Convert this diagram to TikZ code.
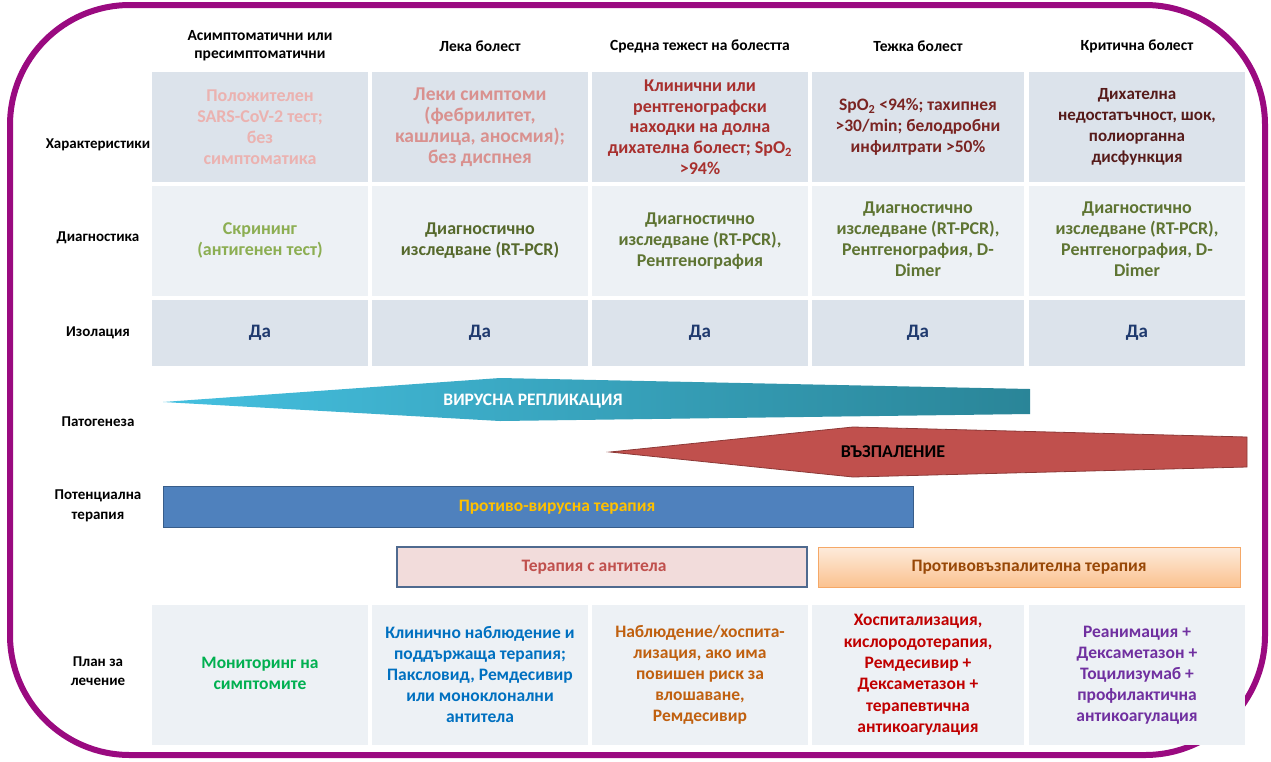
\documentclass[tikz,border=0pt]{standalone}
\usepackage{fontspec}
\setmainfont{Carlito}
\definecolor{frame}{HTML}{9A0A80}
\definecolor{rowA}{HTML}{DCE3EB}
\definecolor{rowB}{HTML}{EDF1F5}
\definecolor{chA}{HTML}{EBB2B0}
\definecolor{chB}{HTML}{D9918F}
\definecolor{chC}{HTML}{A8302E}
\definecolor{chD}{HTML}{7A2422}
\definecolor{chE}{HTML}{561B1A}
\definecolor{dgA}{HTML}{8CAE52}
\definecolor{dgB}{HTML}{56692C}
\definecolor{dgC}{HTML}{5E7432}
\definecolor{yes}{HTML}{1F3A6E}
\definecolor{plA}{HTML}{00B050}
\definecolor{plB}{HTML}{0070C0}
\definecolor{plC}{HTML}{C0600F}
\definecolor{plD}{HTML}{C00000}
\definecolor{plE}{HTML}{7030A0}
\definecolor{tealL}{HTML}{45C0E0}
\definecolor{tealR}{HTML}{2A8598}
\definecolor{redF}{HTML}{C0504D}
\definecolor{redD}{HTML}{8C3836}
\definecolor{blueF}{HTML}{4F81BD}
\definecolor{blueD}{HTML}{385D8A}
\definecolor{pinkF}{HTML}{F2DCDB}
\definecolor{pinkD}{HTML}{4F6A8F}
\definecolor{orT}{HTML}{FDEBDC}
\definecolor{orB}{HTML}{FBC28F}
\definecolor{orD}{HTML}{F5A867}
\definecolor{orTx}{HTML}{984807}
\definecolor{gold}{HTML}{FFC000}
\begin{document}
\begin{tikzpicture}[x=1pt,y=-1pt,
  cellbox/.style={minimum height=110pt, inner sep=0pt, align=center, draw=none,
    font=\fontsize{18}{21}\selectfont\bfseries},
  hdr/.style={align=center, inner sep=0pt, font=\fontsize{15.5}{18}\selectfont\bfseries},
  lbl/.style={align=center, inner sep=0pt, font=\fontsize{15}{19.5}\selectfont\bfseries},
  bartext/.style={inner sep=0pt, font=\fontsize{17.5}{20}\selectfont\bfseries}
]
\useasboundingbox (0,0) rectangle (1271,761);
\fill[white] (0,0) rectangle (1271,761);

% frame
\draw[frame, line width=6pt, rounded corners=120pt] (10,5) rectangle (1265,755);

% headers
\node[hdr] (h1) at (260,46) {Асимптоматични или\\пресимптоматични};
\node[hdr] (h2) at (480,46) {Лека болест};
\node[hdr] (h3) at (700,46) {Средна тежест на болестта};
\node[hdr] (h4) at (918,46) {Тежка болест};
\node[hdr] (h5) at (1137,46) {Критична болест};

% row labels
\node[lbl] (l1) at (98,145) {Характеристики};
\node[lbl] (l2) at (98,238) {Диагностика};
\node[lbl] (l3) at (98,333) {Изолация};
\node[lbl] (l4) at (98,422) {Патогенеза};
\node[lbl] (l5) at (98,506) {Потенциална\\терапия};
\node[lbl] (l6) at (98,671) {План за\\лечение};

% characteristics row
\node[cellbox, fill=rowA, minimum width=216pt, text=chA] (c11) at (260,127) {Положителен\\SARS-CoV-2 тест;\\без\\симптоматика};
\node[cellbox, fill=rowA, minimum width=216pt, text=chB, font=\fontsize{19.5}{21}\selectfont\bfseries] (c12) at (480,127) {Леки симптоми\\(фебрилитет,\\кашлица, аносмия);\\без диспнея};
\node[cellbox, fill=rowA, minimum width=216pt, text=chC, font=\fontsize{18}{20.7}\selectfont\bfseries] (c13) at (700,127) {Клинични или\\рентгенографски\\находки на долна\\дихателна болест; SpO\textsubscript{2}\\>94\%};
\node[cellbox, fill=rowA, minimum width=212pt, text=chD, font=\fontsize{17.5}{21}\selectfont\bfseries] (c14) at (918,127) {SpO\textsubscript{2} <94\%; тахипнея\\>30/min; белодробни\\инфилтрати >50\%};
\node[cellbox, fill=rowA, minimum width=216pt, text=chE, font=\fontsize{17}{21}\selectfont\bfseries] (c15) at (1137,127) {Дихателна\\недостатъчност, шок,\\полиорганна\\дисфункция};

% diagnostics row
\node[cellbox, fill=rowB, minimum width=216pt, text=dgA] (c21) at (260,241) {\raisebox{5pt}{\begin{tabular}{@{}c@{}}Скрининг\\(антигенен тест)\end{tabular}}};
\node[cellbox, fill=rowB, minimum width=216pt, text=dgB] (c22) at (480,241) {\raisebox{5pt}{\begin{tabular}{@{}c@{}}Диагностично\\изследване (RT-PCR)\end{tabular}}};
\node[cellbox, fill=rowB, minimum width=216pt, text=dgC] (c23) at (700,241) {\raisebox{3pt}{\begin{tabular}{@{}c@{}}Диагностично\\изследване (RT-PCR),\\Рентгенография\end{tabular}}};
\node[cellbox, fill=rowB, minimum width=212pt, text=dgC] (c24) at (918,241) {\raisebox{3pt}{\begin{tabular}{@{}c@{}}Диагностично\\изследване (RT-PCR),\\Рентгенография, D-\\Dimer\end{tabular}}};
\node[cellbox, fill=rowB, minimum width=216pt, text=dgC] (c25) at (1137,241) {\raisebox{3pt}{\begin{tabular}{@{}c@{}}Диагностично\\изследване (RT-PCR),\\Рентгенография, D-\\Dimer\end{tabular}}};

% isolation row
\tikzset{yescell/.style={cellbox, fill=rowA, minimum height=66pt, text=yes, font=\fontsize{19}{21}\selectfont\bfseries}}
\node[yescell, minimum width=216pt] (c31) at (260,333) {\raisebox{3pt}{Да}};
\node[yescell, minimum width=216pt] (c32) at (480,333) {\raisebox{3pt}{Да}};
\node[yescell, minimum width=216pt] (c33) at (700,333) {\raisebox{3pt}{Да}};
\node[yescell, minimum width=212pt] (c34) at (918,333) {\raisebox{3pt}{Да}};
\node[yescell, minimum width=216pt] (c35) at (1137,333) {\raisebox{3pt}{Да}};

% pathogenesis arrows
\shade[left color=tealL, right color=tealR] (163,402) -- (500,378) -- (1030,389) -- (1030,414) -- (500,421) -- cycle;
\node[bartext, text=white] (vr) at (533,401) {ВИРУСНА РЕПЛИКАЦИЯ};
\filldraw[fill=redF, draw=redD, line width=0.8pt] (610,452) -- (853,427) -- (1247,437) -- (1247,467) -- (853,477) -- cycle;
\node[bartext, text=black, font=\fontsize{18}{20}\selectfont\bfseries] (inf) at (893,452) {ВЪЗПАЛЕНИЕ};

% therapies
\node[draw=blueD, fill=blueF, line width=1pt, minimum width=750pt, minimum height=41pt, inner sep=0pt] (av) at (538,507) {};
\node[bartext, text=gold] (avt) at (557,507) {Противо-вирусна терапия};
\node[draw=pinkD, fill=pinkF, line width=1.4pt, minimum width=410pt, minimum height=40pt, inner sep=0pt] (ab) at (602,567) {};
\node[bartext, text=redF] (abt) at (594,567) {Терапия с антитела};
\node[draw=orD, top color=orT, bottom color=orB, line width=1pt, minimum width=422pt, minimum height=40pt, inner sep=0pt,
  bartext, text=orTx] (ai) at (1029,567) {Противовъзпалителна терапия};

% plan row
\tikzset{plancell/.style={cellbox, fill=rowB, minimum height=140pt, font=\fontsize{17.5}{21}\selectfont\bfseries}}
\node[plancell, minimum width=216pt, text=plA] (c41) at (260,675) {\raisebox{4pt}{\begin{tabular}{@{}c@{}}Мониторинг на\\симптомите\end{tabular}}};
\node[plancell, minimum width=216pt, text=plB] (c42) at (480,675) {Клинично наблюдение и\\поддържаща терапия;\\Паксловид, Ремдесивир\\или моноклонални\\антитела};
\node[plancell, minimum width=216pt, text=plC] (c43) at (700,675) {\raisebox{3pt}{\begin{tabular}{@{}c@{}}Наблюдение/хоспита-\\лизация, ако има\\повишен риск за\\влошаване,\\Ремдесивир\end{tabular}}};
\node[plancell, minimum width=212pt, text=plD, font=\fontsize{17.5}{21.4}\selectfont\bfseries] (c44) at (918,675) {Хоспитализация,\\кислородотерапия,\\Ремдесивир +\\Дексаметазон +\\терапевтична\\антикоагулация};
\node[plancell, minimum width=216pt, text=plE] (c45) at (1137,675) {Реанимация +\\Дексаметазон +\\Тоцилизумаб +\\профилактична\\антикоагулация};
\end{tikzpicture}
\end{document}
